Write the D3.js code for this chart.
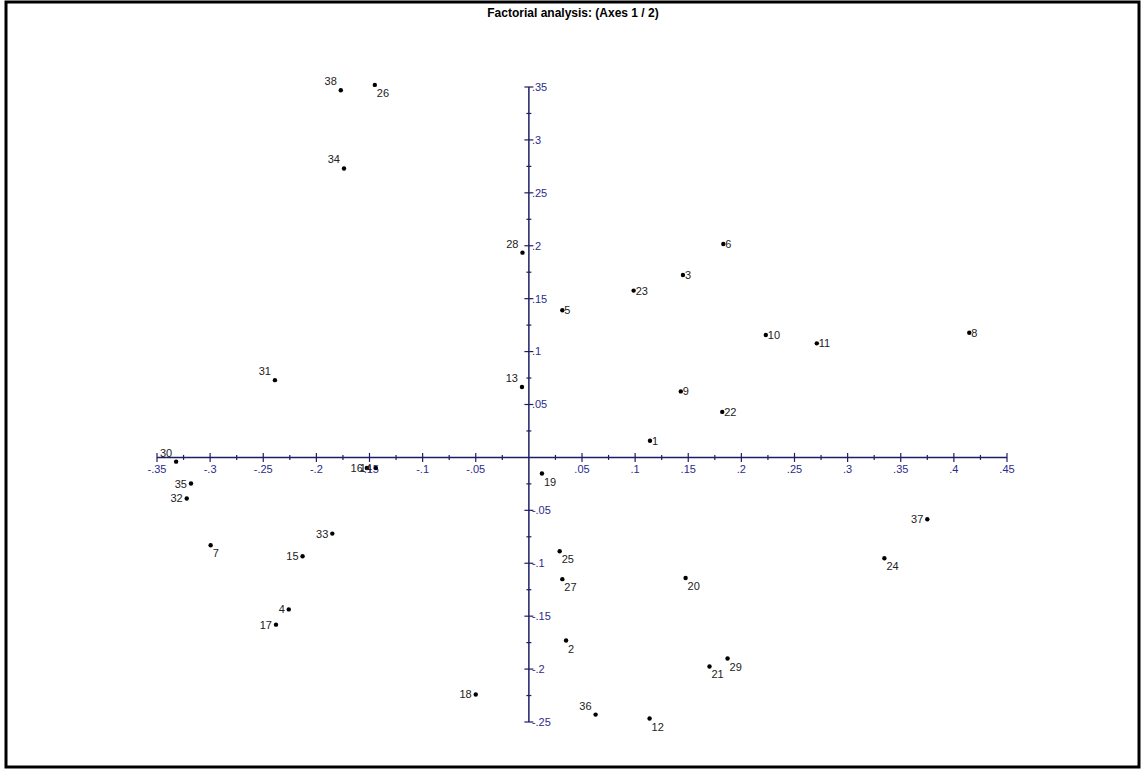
<!DOCTYPE html>
<html>
<head>
<meta charset="utf-8">
<script src="https://cdn.jsdelivr.net/npm/d3@7"></script>
<style>
  html, body { margin: 0; padding: 0; background: #fff; }
  svg { display: block; font-family: "Liberation Sans", Arial, sans-serif; }
</style>
</head>
<body>
<div id="chart"></div>
<script>
// observation ids and their coordinates on factorial axes 1 and 2
var ids = [1, 2, 3, 4, 5, 6, 7, 8, 9, 10, 11, 12, 13, 14, 15, 16, 17, 18, 19,
  20, 21, 22, 23, 24, 25, 26, 27, 28, 29, 30, 31, 32, 33, 34, 35, 36, 37, 38];
var axis1 = [0.114, 0.035, 0.145, -0.226, 0.0315, 0.183, -0.2995, 0.4145, 0.143,
  0.223, 0.271, 0.1136, -0.0065, -0.144, -0.213, -0.1525, -0.238, -0.05, 0.0123,
  0.1475, 0.170, 0.182, 0.0986, 0.3346, 0.029, -0.145, 0.0315, -0.006, 0.187,
  -0.332, -0.239, -0.322, -0.185, -0.174, -0.318, 0.0628, 0.375, -0.177];
var axis2 = [0.0157, -0.173, 0.1724, -0.1436, 0.139, 0.2017, -0.083, 0.1178, 0.0624,
  0.1157, 0.1078, -0.2467, 0.0665, -0.010, -0.0934, -0.010, -0.158, -0.224, -0.0152,
  -0.114, -0.1975, 0.043, 0.1576, -0.0953, -0.0887, 0.352, -0.115, 0.1935, -0.190,
  -0.004, 0.073, -0.0388, -0.072, 0.273, -0.0247, -0.243, -0.0584, 0.347];
// where each label sits: r = right, rb = right below, l = left, la = left above
var labelSide = ["r", "rb", "r", "l", "r", "r", "rb", "r", "r", "r", "r", "rb", "la",
  "l", "l", "l", "l", "l", "rb", "rb", "rb", "r", "r", "rb", "rb", "rb", "rb", "la", "rb",
  "la", "la", "l", "l", "la", "l", "la", "l", "la"];

var xTicks = [-0.35, -0.3, -0.25, -0.2, -0.15, -0.1, -0.05, 0.05, 0.1, 0.15, 0.2, 0.25, 0.3, 0.35, 0.4, 0.45];
var xTickLabels = ["-.35", "-.3", "-.25", "-.2", "-.15", "-.1", "-.05", ".05", ".1", ".15", ".2", ".25", ".3", ".35", ".4", ".45"];
var yTicks = [0.35, 0.3, 0.25, 0.2, 0.15, 0.1, 0.05, -0.05, -0.1, -0.15, -0.2, -0.25];
var yTickLabels = [".35", ".3", ".25", ".2", ".15", ".1", ".05", "-.05", "-.1", "-.15", "-.2", "-.25"];

var width = 1144, height = 771;
var axisColor = "#1e1e64", tickTextColor = "#2b2b8c";

var svg = d3.select("#chart").append("svg")
  .attr("width", width)
  .attr("height", height);

// outer frame
svg.append("rect")
  .attr("x", 6).attr("y", 2)
  .attr("width", 1133).attr("height", 765)
  .attr("fill", "#fff")
  .attr("stroke", "#000")
  .attr("stroke-width", 3);

svg.append("text")
  .attr("x", 573).attr("y", 17)
  .attr("text-anchor", "middle")
  .style("font-size", "12px")
  .style("font-weight", "bold")
  .text("Factorial analysis: (Axes 1 / 2)");

var x = d3.scaleLinear().domain([-0.35, 0.45]).range([157, 1007]);
var y = d3.scaleLinear().domain([-0.25, 0.35]).range([722, 87]);

var x0 = x(0), y0 = y(0);

// axis lines
svg.append("line")
  .attr("x1", x(-0.35)).attr("x2", x(0.45))
  .attr("y1", y0).attr("y2", y0)
  .attr("stroke", axisColor).attr("stroke-width", 1.5);
svg.append("line")
  .attr("x1", x0).attr("x2", x0)
  .attr("y1", y(0.35)).attr("y2", y(-0.25))
  .attr("stroke", axisColor).attr("stroke-width", 1.5);

// minor ticks every .025
var xMinor = d3.range(-0.325, 0.45, 0.05);
var yMinor = d3.range(-0.225, 0.35, 0.05);

svg.append("g").selectAll("line")
  .data(xMinor).enter().append("line")
  .attr("x1", d => x(d)).attr("x2", d => x(d))
  .attr("y1", y0 - 2.5).attr("y2", y0 + 2.5)
  .attr("stroke", axisColor).attr("stroke-width", 1.2);
svg.append("g").selectAll("line")
  .data(yMinor).enter().append("line")
  .attr("y1", d => y(d)).attr("y2", d => y(d))
  .attr("x1", x0 - 2.5).attr("x2", x0 + 2.5)
  .attr("stroke", axisColor).attr("stroke-width", 1.2);

// major ticks
svg.append("g").selectAll("line")
  .data(xTicks).enter().append("line")
  .attr("x1", d => x(d)).attr("x2", d => x(d))
  .attr("y1", y0 - 4.5).attr("y2", y0 + 4.5)
  .attr("stroke", axisColor).attr("stroke-width", 1.2);
svg.append("g").selectAll("line")
  .data(yTicks).enter().append("line")
  .attr("y1", d => y(d)).attr("y2", d => y(d))
  .attr("x1", x0 - 4.5).attr("x2", x0 + 4.5)
  .attr("stroke", axisColor).attr("stroke-width", 1.2);

// tick labels
svg.append("g").selectAll("text")
  .data(xTicks).enter().append("text")
  .attr("x", d => x(d)).attr("y", y0 + 16)
  .attr("text-anchor", "middle")
  .attr("fill", tickTextColor)
  .style("font-size", "11px")
  .text((d, i) => xTickLabels[i]);
svg.append("g").selectAll("text")
  .data(yTicks).enter().append("text")
  .attr("x", x0 + 3).attr("y", d => y(d))
  .attr("dy", "0.35em")
  .attr("fill", tickTextColor)
  .style("font-size", "11px")
  .text((d, i) => yTickLabels[i]);

// points
var pts = ids.map((id, i) => ({ id: id, a: axis1[i], b: axis2[i], side: labelSide[i] }));

var g = svg.append("g");
g.selectAll("circle")
  .data(pts).enter().append("circle")
  .attr("cx", d => x(d.a)).attr("cy", d => y(d.b))
  .attr("r", 2.2)
  .attr("fill", "#000");

g.selectAll("text")
  .data(pts).enter().append("text")
  .attr("x", d => {
    var px = x(d.a);
    if (d.side === "r") return px + 2;
    if (d.side === "rb") return px + 2;
    return px - 4;
  })
  .attr("y", d => {
    var py = y(d.b);
    if (d.side === "rb") return py + 12;
    if (d.side === "la") return py - 5;
    return py + 4;
  })
  .attr("text-anchor", d => (d.side === "l" || d.side === "la") ? "end" : "start")
  .attr("fill", "#222")
  .style("font-size", "11px")
  .text(d => d.id);
</script>
</body>
</html>
